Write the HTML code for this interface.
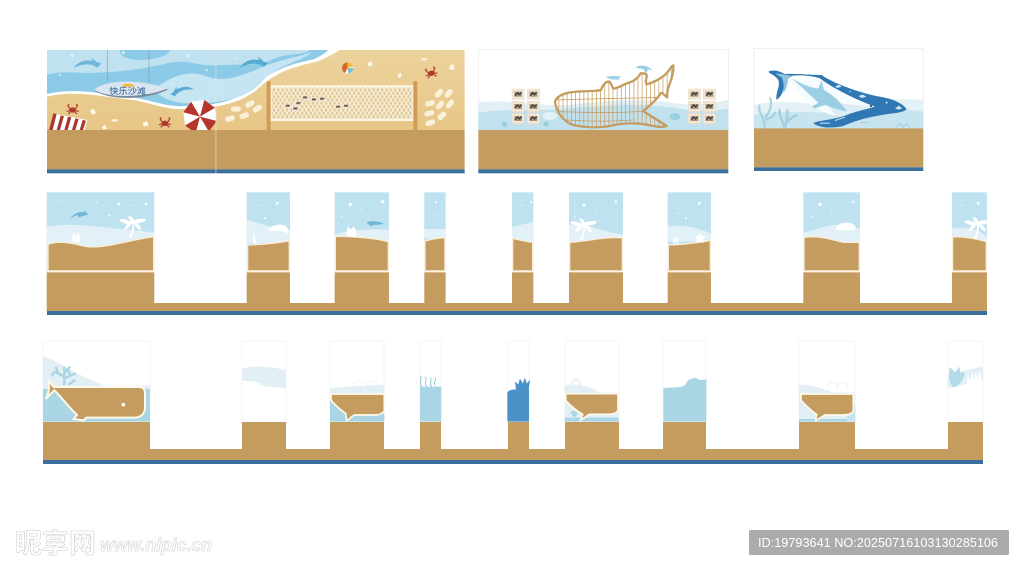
<!DOCTYPE html>
<html><head><meta charset="utf-8"><title>Beach wall design</title>
<style>html,body{margin:0;padding:0;background:#fff;width:1024px;height:570px;overflow:hidden}svg{display:block}</style></head>
<body>
<svg width="1024" height="570" viewBox="0 0 1024 570" xmlns="http://www.w3.org/2000/svg">
<defs>
<linearGradient id="sand" x1="0" y1="0" x2="0" y2="1"><stop offset="0" stop-color="#ecd39c"/><stop offset="1" stop-color="#e7c687"/></linearGradient>
<pattern id="net" width="13" height="20" patternUnits="userSpaceOnUse"><rect width="13" height="20" fill="#e0c998"/><path d="M0,0L13,20M13,0L0,20" stroke="#fff8e6" stroke-width="2.6"/></pattern>
<pattern id="bars" width="12.5" height="40" patternUnits="userSpaceOnUse"><path d="M4,0V40" stroke="#c59c5f" stroke-width="2.2"/></pattern>
<pattern id="dots" width="23" height="19" patternUnits="userSpaceOnUse"><circle cx="4" cy="5" r=".7" fill="#c9a468"/><circle cx="15" cy="13" r=".6" fill="#c9a468"/></pattern>
<g id="tile"><rect width="37" height="31" fill="#f3e6d2" stroke="#e2d2bb" stroke-width="1"/><rect x="7" y="8" width="23" height="15" fill="#a39385"/><path d="M9,20L16,11L22,17L28,10" stroke="#2c2622" stroke-width="3" fill="none"/></g>
<g id="crab"><ellipse cx="0" cy="0" rx="10" ry="8" fill="#b0392e"/><path d="M-8,-3L-15,-14M8,-3L15,-14M-9,2L-18,4M9,2L18,4M-7,6L-13,12M7,6L13,12M-15,-14L-10,-17M15,-14L10,-17" stroke="#b0392e" stroke-width="3.5" fill="none"/></g>
<path id="dolphin" d="M0,26C12,8 34,0 58,4L54,-6L70,8L84,13L72,25L60,18C40,12 20,16 0,26Z"/>
<rect id="peb" x="-15" y="-8" width="30" height="16" rx="8" fill="#fbf1da"/>
<g id="palm"><path d="M-6,0C4,-18 6,-32 5,-46L10,-46C12,-30 8,-14 2,0Z" fill="#fff"/><g fill="#fff"><ellipse cx="-14" cy="-48" rx="20" ry="6" transform="rotate(15 -14 -48)"/><ellipse cx="24" cy="-50" rx="22" ry="6" transform="rotate(-10 24 -50)"/><ellipse cx="-8" cy="-36" rx="16" ry="5" transform="rotate(-50 -8 -36)"/><ellipse cx="20" cy="-36" rx="16" ry="5" transform="rotate(50 20 -36)"/><ellipse cx="2" cy="-56" rx="12" ry="5" transform="rotate(50 2 -56)"/></g></g>
</defs>

<!-- PANEL 1 -->
<g transform="translate(40,40) scale(.3333)">
<rect x="21" y="30" width="1253" height="240" fill="url(#sand)"/>
<rect x="21" y="30" width="1253" height="240" fill="url(#dots)"/>
<path d="M21,170C110,150 180,170 280,180C340,190 390,215 450,205C520,205 590,195 650,150C700,100 760,80 830,65C860,55 880,40 900,30H21Z" fill="#fff"/>
<path d="M21,162C110,142 180,162 280,172C340,182 390,205 450,197C520,197 585,185 640,142C690,92 750,72 820,58C840,50 855,40 865,30H21Z" fill="#8ccbe7"/>
<path d="M21,30H810C790,48 740,36 690,62C650,80 610,70 530,76C470,80 450,55 380,70C320,85 250,95 180,98C110,102 70,90 21,105Z" fill="#bfe1f0"/>
<path d="M238,30H390C385,50 340,60 300,60C260,60 240,48 238,30Z" fill="#8ccbe7"/>
<path d="M340,150C400,100 460,90 500,110C560,130 620,100 670,80C730,55 790,50 815,35C800,60 720,70 670,120C630,175 540,190 450,190C400,192 360,170 340,150Z" fill="#c6e5f2"/>
<use href="#dolphin" x="100" y="58" fill="#6fb8d9"/>
<use href="#dolphin" x="600" y="56" fill="#55abd3"/>
<use href="#dolphin" transform="translate(455,128) scale(-.85,.85) rotate(20)" fill="#55abd3"/>
<g fill="#e2f3fa"><circle cx="97" cy="47" r="5"/><circle cx="250" cy="38" r="4"/><circle cx="445" cy="47" r="5"/><circle cx="60" cy="105" r="3"/><circle cx="395" cy="130" r="3"/><circle cx="500" cy="90" r="3"/><circle cx="590" cy="55" r="3"/></g>
<path d="M202,30V125M327,30V125" stroke="#7f8d98" stroke-width="1.5"/>
<path d="M163,152C190,122 300,118 384,148C340,174 220,188 163,152Z" fill="#7a8899"/>
<path d="M163,150C190,120 300,115 380,146C340,166 220,182 163,150Z" fill="#dbe4f2"/>
<path d="M244,140C246,128 280,128 284,140Z" fill="#f0b93c"/>
<text x="208" y="162" font-family="'Liberation Sans','Noto Sans CJK SC',sans-serif" font-size="25" fill="#2a5c90" textLength="110" lengthAdjust="spacingAndGlyphs">快乐沙滩</text>
<!-- towel -->
<path d="M40,220L142,240L134,272H26Z" fill="#fff"/>
<path d="M40,220L50,222L38,270H27ZM62,226L72,228L60,270H50ZM84,230L94,232L83,270H73ZM106,235L116,237L106,270H96ZM128,240L138,242L129,270H119Z" fill="#a83a30"/>
<use href="#crab" x="98" y="210"/><use href="#crab" x="375" y="250"/><use href="#crab" transform="translate(1174,100) rotate(-15)"/>
<!-- umbrella -->
<g transform="rotate(-8 480 230)">
<path d="M460,182H500L528,210V250L500,278H460L432,250V210Z" fill="#fff"/>
<path d="M480,230L500,182L528,210ZM480,230L528,250L500,278ZM480,230L460,278L432,250ZM480,230L432,210L460,182Z" fill="#b5352b"/>
</g>
<g fill="#fff8e8"><path d="M150,212l12,-6l6,14l-12,4Z"/><path d="M186,262l8,-8l8,12l-12,3Z"/><path d="M308,250l12,-8l6,14l-14,4Z"/><path d="M215,238h18v6h-18Z"/><path d="M982,70l12,-8l4,14l-12,4Z"/><path d="M1073,104l10,-6l2,12l-10,4Z"/><path d="M1145,55h16v6h-16Z"/><path d="M1228,78l12,-6l4,16l-14,2Z"/></g>
<use href="#peb" x="588" y="207"/><use href="#peb" transform="translate(630,192) rotate(-30)"/><use href="#peb" transform="translate(652,206) rotate(-30)"/><use href="#peb" transform="translate(613,227) rotate(-20)"/><use href="#peb" transform="translate(570,236) rotate(-15)"/>
<use href="#peb" transform="translate(1197,160) rotate(-50)"/><use href="#peb" transform="translate(1226,160) rotate(-50)"/><use href="#peb" transform="translate(1170,190) rotate(-15)"/><use href="#peb" transform="translate(1200,195) rotate(-50)"/><use href="#peb" transform="translate(1230,192) rotate(-50)"/><use href="#peb" transform="translate(1168,220) rotate(-15)"/><use href="#peb" transform="translate(1206,227) rotate(-45)"/><use href="#peb" transform="translate(1171,248) rotate(-20)"/>
<circle cx="923" cy="84" r="17" fill="#fff"/><path d="M923,67A17,17 0 0 0 915,99L923,84Z" fill="#d9652b"/><path d="M923,84L940,84A17,17 0 0 1 925,101Z" fill="#7cc0d8"/><path d="M923,67A17,17 0 0 1 940,80L923,84Z" fill="#ecc13f"/>
<!-- net -->
<rect x="692" y="139" width="428" height="101" fill="url(#net)" stroke="#fff9ea" stroke-width="6"/>
<rect x="680" y="124" width="12" height="146" fill="#d39a56"/><rect x="1120" y="124" width="12" height="146" fill="#d39a56"/>
<use href="#tile" transform="translate(733,190) scale(.55,.48)"/><use href="#tile" transform="translate(756,198) scale(.55,.48)"/><use href="#tile" transform="translate(765,182) scale(.55,.48)"/><use href="#tile" transform="translate(785,165) scale(.55,.48)"/><use href="#tile" transform="translate(812,171) scale(.55,.48)"/><use href="#tile" transform="translate(836,169) scale(.55,.48)"/><use href="#tile" transform="translate(884,193) scale(.55,.48)"/><use href="#tile" transform="translate(908,190) scale(.55,.48)"/>
<rect x="21" y="270" width="1253" height="118" fill="#c59c5f"/>
<rect x="21" y="388" width="1253" height="12" fill="#3b6f9e"/>
<rect x="527" y="30" width="1.8" height="370" fill="#efe6d4"/>
</g>

<!-- PANEL 2 -->
<g transform="translate(470,40) scale(.3333)">
<rect x="25" y="28" width="750" height="242" fill="#fff" stroke="#e8e8e8" stroke-width="2"/>
<path d="M25,188C120,175 200,200 300,195C420,180 520,175 620,190C680,198 730,190 775,180V270H25Z" fill="#e2eff5"/>
<path d="M25,218C100,205 200,215 300,205C420,195 530,190 620,205C680,215 730,215 775,205V270H25Z" fill="#c2e1ee"/>
<ellipse cx="240" cy="228" rx="22" ry="12" fill="#e0f1f7"/><ellipse cx="615" cy="230" rx="16" ry="10" fill="#98cfe0"/><circle cx="104" cy="253" r="8" fill="#98cfe0"/><circle cx="228" cy="252" r="8" fill="#98cfe0"/>
<path d="M497,82C510,72 535,76 548,92L535,88L528,100L520,88C510,84 503,86 497,82Z" fill="#9ed0e3"/>
<path d="M408,112C420,105 440,108 456,110L446,114L450,118C435,120 420,118 408,112Z" fill="#9ed0e3"/>
<path d="M255,185C262,165 290,157 320,155C345,152 375,155 393,150C398,135 408,123 418,125C425,130 425,140 430,146C450,143 465,130 480,127C495,122 505,112 512,100C522,100 532,100 530,110C527,120 527,128 530,133C550,128 575,115 590,100C598,92 602,80 610,76C612,95 605,115 598,135C592,150 590,160 592,172C580,165 575,150 568,166C555,185 535,200 520,213C535,225 565,240 590,258C575,265 550,258 520,252C480,248 450,250 420,258C380,265 340,262 310,255C280,245 258,215 255,185Z" fill="url(#bars)" stroke="#c59c5f" stroke-width="7" stroke-linejoin="round"/>
<path d="M262,180C350,176 470,176 565,172M268,215C350,218 450,218 520,214M290,240C350,244 430,244 490,240" stroke="#c59c5f" stroke-width="2.2" fill="none"/>
<use href="#tile" x="126" y="147"/><use href="#tile" x="172" y="147"/><use href="#tile" x="126" y="184"/><use href="#tile" x="172" y="184"/><use href="#tile" x="126" y="220"/><use href="#tile" x="172" y="220"/>
<use href="#tile" x="655" y="147"/><use href="#tile" x="700" y="147"/><use href="#tile" x="655" y="184"/><use href="#tile" x="700" y="184"/><use href="#tile" x="655" y="220"/><use href="#tile" x="700" y="220"/>
<rect x="25" y="270" width="750" height="118" fill="#c59c5f"/>
<rect x="25" y="388" width="750" height="12" fill="#3b6f9e"/>
</g>

<!-- PANEL 3 -->
<g transform="translate(470,40) scale(.3333)">
<rect x="852" y="25" width="508" height="240" fill="#fff" stroke="#e8e8e8" stroke-width="2"/>
<path d="M852,195C950,170 1050,205 1150,190C1220,180 1300,175 1360,180V265H852Z" fill="#e4f1f6"/>
<path d="M852,225C950,205 1050,225 1150,215C1220,205 1300,205 1360,215V265H852Z" fill="#c8e4ef"/>
<path d="M885,265C885,230 860,215 870,195M885,235C895,220 910,200 900,172M885,240C900,235 915,230 915,215" stroke="#a3d1e1" stroke-width="6" fill="none"/>
<path d="M945,265C935,235 925,225 930,208M945,265C950,240 955,215 950,208M948,250C960,235 970,228 982,226" stroke="#a3d1e1" stroke-width="8" fill="none"/>
<path d="M1170,247h30M1280,262l10,-12l10,12l10,-12l8,12" stroke="#8ec5dc" stroke-width="2" fill="none"/>
<g transform="translate(870,60)">
<path d="M85,52H180C220,85 280,115 345,140C320,150 290,155 260,165C220,178 140,150 85,52Z" fill="#f6fbfd"/>
<path d="M200,120C240,135 300,135 345,140C320,155 280,165 240,172C220,165 205,140 200,120Z" fill="#dcedf5"/>
<path d="M25,35C40,28 55,32 75,42C110,40 150,45 185,45C220,70 300,100 370,112C400,118 430,130 440,148C425,160 400,158 350,168C310,175 280,185 250,198C220,205 180,205 160,190C175,180 215,182 260,165C285,155 320,148 345,140C280,115 220,85 180,55C150,45 100,44 80,50C70,80 75,100 50,120C45,100 62,80 55,60C45,45 30,42 25,35Z" fill="#2f78b4"/>
<path d="M45,40C60,40 80,45 100,48L85,55C82,75 80,85 70,100C72,85 72,65 65,52Z" fill="#8ec5dc"/>
<path d="M95,55C130,75 160,85 175,85L185,62L192,90C220,105 245,130 262,155C235,150 210,140 195,135L165,145L155,140L175,128C150,105 125,80 95,55Z" fill="#9ccfe3"/>
<circle cx="333" cy="138" r="3" fill="#234"/>
<g fill="#cfe6f2"><path d="M225,80l12,-6l8,6l-12,4Z"/><path d="M295,108l14,-4l10,6l-14,4Z"/><path d="M405,145l12,-8l10,8l-12,4Z"/><circle cx="380" cy="128" r="3"/><circle cx="270" cy="95" r="2"/><path d="M180,188h30v3h-30Z"/><path d="M225,180l30,-10v3l-30,10Z"/></g>
</g>
<rect x="852" y="265" width="508" height="117" fill="#c59c5f"/>
<rect x="852" y="382" width="508" height="11" fill="#3b6f9e"/>
</g>

<!-- ROW 2 -->
<rect x="47" y="303" width="940" height="8" fill="#c59c5f"/>
<rect x="47" y="311" width="940" height="4" fill="#3b6f9e"/>
<g transform="translate(40,185) scale(.3333)">
<rect x="20" y="22" width="323" height="237" fill="#bfe2f0"/>
<path d="M20,125C100,110 200,130 343,142V200H20Z" fill="#e2f1f7"/>
<path d="M24,178C60,165 100,175 130,183C190,195 260,165 341,155V258H24Z" fill="#c59c5f" stroke="#fbeed8" stroke-width="4"/>
<rect x="20" y="262" width="323" height="116" fill="#c59c5f"/>
<g fill="#fff"><circle cx="237" cy="57" r="4"/><circle cx="318" cy="57" r="4"/><circle cx="208" cy="92" r="3"/><circle cx="65" cy="50" r="2"/><circle cx="170" cy="52" r="2"/><circle cx="272" cy="62" r="2"/></g>
<path d="M90,102C100,85 120,78 135,82L132,74L144,88C135,92 125,92 118,98L112,90C105,92 98,96 90,102Z" fill="#6fb7d6"/>
<use href="#palm" x="272" y="158"/>
<path d="M95,168C92,155 100,152 100,142L106,150L115,142C118,150 124,158 120,170C112,172 100,172 95,168Z" fill="#fff"/>

<rect x="620" y="22" width="130" height="237" fill="#bfe2f0"/>
<path d="M620,105C650,110 690,130 750,135V175H620Z" fill="#e2f1f7"/>
<path d="M623,180C670,178 710,175 748,167V258H623Z" fill="#c59c5f" stroke="#fbeed8" stroke-width="4"/>
<rect x="620" y="262" width="130" height="116" fill="#c59c5f"/>
<g fill="#fff"><circle cx="712" cy="55" r="4"/><circle cx="675" cy="100" r="3"/><circle cx="665" cy="62" r="2"/></g>
<path d="M685,138C690,120 720,115 736,122C745,130 748,140 745,145C725,138 705,136 685,138Z" fill="#fff"/>
<path d="M640,145L652,176L640,176Z" fill="#fff"/>

<rect x="884" y="22" width="163" height="237" fill="#bfe2f0"/>
<path d="M884,148C930,135 1000,130 1047,135V170H884Z" fill="#e2f1f7"/>
<path d="M886,154C930,154 1000,158 1045,170V258H886Z" fill="#c59c5f" stroke="#fbeed8" stroke-width="4"/>
<rect x="884" y="262" width="163" height="116" fill="#c59c5f"/>
<g fill="#fff"><circle cx="931" cy="58" r="5"/><circle cx="1028" cy="50" r="5"/><circle cx="965" cy="75" r="2"/><circle cx="905" cy="95" r="2"/></g>
<path d="M980,113C990,105 1015,108 1032,116C1020,120 1000,118 992,124Z" fill="#6fb7d6"/>
<path d="M920,150C918,140 922,132 924,124L932,134L942,124C948,135 952,145 948,154C935,158 928,156 920,150Z" fill="#fff"/>

<rect x="1153" y="22" width="64" height="237" fill="#bfe2f0"/>
<path d="M1153,132H1217V160H1153Z" fill="#e2f1f7"/>
<path d="M1155,168C1175,162 1195,158 1215,158V258H1155Z" fill="#c59c5f" stroke="#fbeed8" stroke-width="4"/>
<rect x="1153" y="262" width="64" height="116" fill="#c59c5f"/>
<g fill="#fff"><circle cx="1188" cy="52" r="3"/><circle cx="1192" cy="90" r="2"/></g>
</g>
<g transform="translate(510,185) scale(.3333)">
<rect x="6" y="22" width="64" height="237" fill="#bfe2f0"/>
<path d="M6,125C30,120 50,115 70,112V170H6Z" fill="#e2f1f7"/>
<path d="M8,160C30,165 50,170 68,172V258H8Z" fill="#c59c5f" stroke="#fbeed8" stroke-width="4"/>
<rect x="6" y="262" width="64" height="116" fill="#c59c5f"/>
<circle cx="63" cy="52" r="3" fill="#fff"/><circle cx="35" cy="62" r="2" fill="#fff"/>

<rect x="177" y="22" width="162" height="237" fill="#bfe2f0"/>
<path d="M177,120C230,110 270,140 339,148V170H177Z" fill="#e2f1f7"/>
<path d="M179,172C230,170 270,155 337,158V258H179Z" fill="#c59c5f" stroke="#fbeed8" stroke-width="4"/>
<rect x="177" y="262" width="162" height="116" fill="#c59c5f"/>
<g fill="#fff"><circle cx="222" cy="60" r="4"/><circle cx="318" cy="50" r="4"/><circle cx="255" cy="75" r="2"/><circle cx="195" cy="95" r="2"/></g>
<use href="#palm" x="215" y="165"/>

<rect x="473" y="22" width="130" height="237" fill="#bfe2f0"/>
<path d="M473,124C520,118 570,130 603,146V170H473Z" fill="#e2f1f7"/>
<path d="M475,180C520,178 560,175 601,166V258H475Z" fill="#c59c5f" stroke="#fbeed8" stroke-width="4"/>
<rect x="473" y="262" width="130" height="116" fill="#c59c5f"/>
<g fill="#fff"><circle cx="568" cy="55" r="4"/><circle cx="528" cy="100" r="3"/><circle cx="505" cy="85" r="2"/>
<path d="M498,148l4,12l9,2l-7,6l2,10l-9,-5l-9,5l2,-10l-7,-6l10,-2Z" fill="#f6fafc"/><path d="M570,142l5,12l12,1l-9,8l3,11l-11,-6l-11,6l3,-11l-9,-8l12,-1Z"/></g>

<rect x="880" y="22" width="170" height="237" fill="#bfe2f0"/>
<path d="M880,142C930,135 970,100 1050,132V172H880Z" fill="#e2f1f7"/>
<path d="M882,157C930,150 970,165 1000,172H1048V258H882Z" fill="#c59c5f" stroke="#fbeed8" stroke-width="4"/>
<rect x="880" y="262" width="170" height="116" fill="#c59c5f"/>
<path d="M978,128C985,112 1015,108 1030,118C1040,125 1040,135 1032,136H985C980,136 976,132 978,128Z" fill="#fff"/>
<g fill="#fff"><circle cx="930" cy="58" r="5"/><circle cx="1030" cy="50" r="4"/><circle cx="965" cy="78" r="2"/><circle cx="905" cy="95" r="2"/></g>

<rect x="1326" y="22" width="105" height="237" fill="#bfe2f0"/>
<path d="M1326,130C1370,125 1400,130 1431,155V175H1326Z" fill="#e2f1f7"/>
<path d="M1328,155C1360,155 1400,160 1429,170V258H1328Z" fill="#c59c5f" stroke="#fbeed8" stroke-width="4"/>
<rect x="1326" y="262" width="105" height="116" fill="#c59c5f"/>
<use href="#palm" x="1396" y="162"/>
<circle cx="1405" cy="55" r="4" fill="#fff"/><circle cx="1355" cy="62" r="2" fill="#fff"/>
</g>
<g fill="#fdf3e2">
<rect x="47" y="270.4" width="107" height="1.6"/><rect x="247" y="270.4" width="43" height="1.6"/><rect x="335" y="270.4" width="54" height="1.6"/><rect x="424" y="270.4" width="22" height="1.6"/><rect x="512" y="270.4" width="21" height="1.6"/><rect x="569" y="270.4" width="54" height="1.6"/><rect x="668" y="270.4" width="43" height="1.6"/><rect x="803" y="270.4" width="57" height="1.6"/><rect x="952" y="270.4" width="35" height="1.6"/>
</g>

<!-- ROW 3 -->
<g fill="none" stroke="#f6f6f6" stroke-width="1">
<path d="M43,422V341H150V422M242,422V341H286V422M330,422V341H384V422M420,422V341H441V422M508,422V341H529V422M565,422V341H619V422M663,422V341H706V422M799,422V341H855V422M948,422V341H983V422"/>
</g>
<g fill="#c59c5f"><rect x="43" y="422" width="107" height="27"/><rect x="242" y="422" width="44" height="27"/><rect x="330" y="422" width="54" height="27"/><rect x="420" y="422" width="21" height="27"/><rect x="508" y="422" width="21" height="27"/><rect x="565" y="422" width="54" height="27"/><rect x="663" y="422" width="43" height="27"/><rect x="799" y="422" width="56" height="27"/><rect x="948" y="422" width="35" height="27"/><rect x="43" y="449" width="940" height="11"/></g>
<rect x="43" y="460" width="940" height="4" fill="#3b6f9e"/>
<g transform="translate(35,335) scale(.3333)">
<path d="M24,65C60,70 100,110 210,152H345V260H24Z" fill="#e2f0f6"/>
<path d="M24,162H345V260H24Z" fill="#a9d5e4"/>
<path d="M88,150V95M88,125L60,110M60,110L50,122M70,115L62,95M88,115L105,95M88,130L122,115M105,122L100,105M100,150L120,135" stroke="#a9d3e3" stroke-width="7" fill="none"/>
<path d="M40,136L56,156H312Q330,156 330,176V222Q325,248 298,248H155L145,256L116,252L126,240C100,215 78,185 58,166L32,192Q46,170 40,136Z" fill="#c59c5f" stroke="#fff9ea" stroke-width="6"/>
<circle cx="265" cy="209" r="5.5" fill="#fff"/>

<path d="M622,100C660,90 710,95 752,105V160C720,152 700,160 680,150C660,135 640,140 622,136Z" fill="#e2f0f6"/>

<path d="M885,160C930,155 1000,150 1048,150V260H885Z" fill="#e2f0f6"/>
<path d="M885,195H1048V260H885Z" fill="#a9d5e4"/>
<path d="M950,150C960,135 980,135 990,150C1000,135 1020,135 1030,150M990,170V145" stroke="#f4f7f8" stroke-width="4" fill="none"/>
<path d="M888,177H1048V228Q1040,240 1020,240H958L935,257L932,235C915,225 895,205 888,195Z" fill="#c59c5f" stroke="#fff9ea" stroke-width="5"/>

<path d="M1155,155H1219V260H1155Z" fill="#a9d5e4"/>
<path d="M1160,155C1150,140 1165,130 1155,122M1175,155C1165,140 1180,135 1170,125M1190,155C1180,145 1195,135 1185,128M1200,150C1195,140 1205,135 1200,128" stroke="#7fbdd2" stroke-width="2.5" fill="none"/>
</g>
<g transform="translate(500,335) scale(.3333)">
<path d="M22,172Q30,162 50,164H87V260H22Z" fill="#4a92c8"/>
<path d="M48,165L45,140L55,148L60,130L68,145L75,128L80,145L90,135L86,165Z" fill="#4a92c8"/>

<path d="M194,150C240,145 270,155 300,172H356V260H194Z" fill="#e2f0f6"/>
<circle cx="228" cy="145" r="12" fill="none" stroke="#e8eff2" stroke-width="6"/>
<path d="M194,248H356V260H194Z" fill="#a9d5e4"/>
<path d="M210,232l12,-6l12,10l-10,12Z" fill="#a9d5e4"/>
<path d="M197,176H354V225Q350,238 325,238H268L242,256L248,238C225,225 205,205 197,196Z" fill="#c59c5f" stroke="#fff9ea" stroke-width="5"/>

<path d="M490,160C520,155 545,160 555,150L565,135L585,128L600,135L619,133V260H490Z" fill="#a9d5e4"/>

<path d="M897,148C940,150 965,160 1000,172H1066V260H897Z" fill="#e2f0f6"/>
<path d="M897,252H1066V260H897Z" fill="#a9d5e4"/>
<path d="M1040,210H1066V260H1040Z" fill="#c5e3ee"/>
<path d="M980,155C985,140 1005,138 1015,150C1025,138 1040,140 1045,155M1010,165V145" stroke="#f0f3f5" stroke-width="4" fill="none"/>
<path d="M903,177H1060V228Q1055,240 1030,240H975L947,257L950,238C930,225 912,205 903,196Z" fill="#c59c5f" stroke="#fff9ea" stroke-width="5"/>

<path d="M1343,118L1449,94V135L1343,160Z" fill="#e2f0f6"/>
<path d="M1360,158C1345,140 1345,115 1350,96L1365,112L1378,95L1382,115L1395,110C1392,130 1385,150 1360,158Z" fill="#b5dbe9"/>
<path d="M1400,145l4,-25l6,20l6,-28l6,22l6,-24l4,20l6,-24l6,20v10l-40,12Z" fill="#fff"/>
</g>

<!-- watermark -->
<g font-family="'Liberation Sans','Noto Sans CJK SC',sans-serif" fill="#fff" stroke="#cfcfcf" stroke-width=".6">
<text x="15" y="553" font-size="27" font-weight="700" textLength="81" lengthAdjust="spacingAndGlyphs">昵享网</text>
<text x="100" y="551" font-size="18" font-weight="700" font-style="italic" textLength="112" lengthAdjust="spacingAndGlyphs">www.nipic.cn</text>
</g>
<rect x="749" y="530" width="260" height="25" rx="1.5" fill="#ababab"/>
<text x="758" y="547" font-family="'Liberation Sans',sans-serif" font-size="13" fill="#fff" textLength="240" lengthAdjust="spacingAndGlyphs">ID:19793641 NO:20250716103130285106</text>
</svg>
</body></html>
